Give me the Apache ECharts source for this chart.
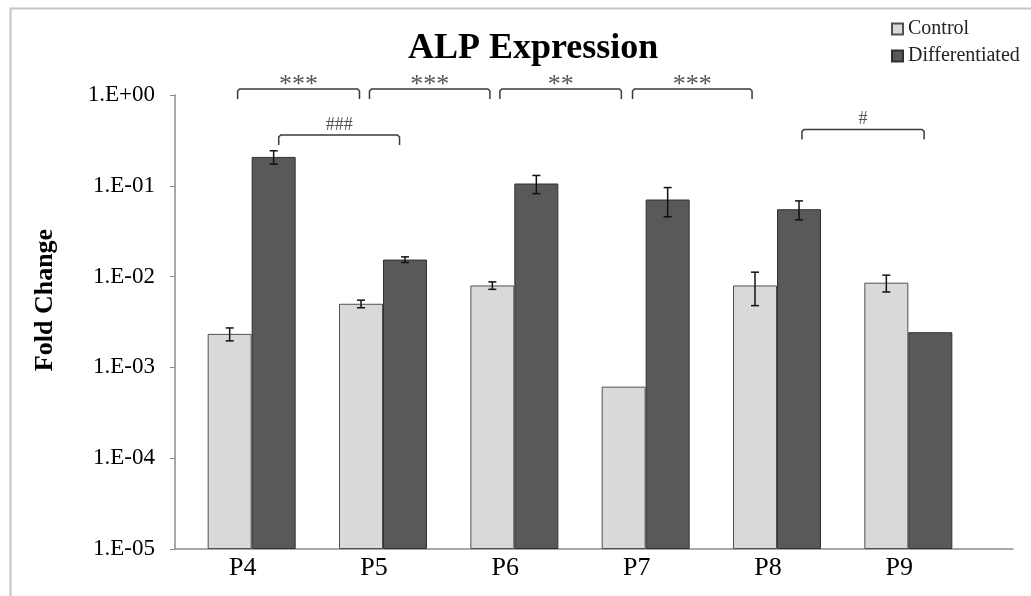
<!DOCTYPE html>
<html>
<head>
<meta charset="utf-8">
<title>ALP Expression</title>
<script src="https://cdn.jsdelivr.net/npm/echarts@6/dist/echarts.min.js"></script>
<style>
  html, body { margin: 0; padding: 0; background: #ffffff; }
  #chart { width: 1031px; height: 596px; }
</style>
</head>
<body>
<div id="chart"></div>
<script>
// Passage groups
const categories = ['P4', 'P5', 'P6', 'P7', 'P8', 'P9'];

// Fold change (mean) and standard deviation per passage
const controlMean = [2.34e-3, 5.02e-3, 7.99e-3, 6.14e-4, 7.99e-3, 8.57e-3];
const controlSD   = [0.38e-3, 0.48e-3, 0.75e-3, 0, 3.2e-3, 1.8e-3];
const diffMean    = [0.208, 0.0154, 0.106, 0.0706, 0.0552, 2.44e-3];
const diffSD      = [0.035, 0.0011, 0.024, 0.025, 0.013, 0];

// Log axis tick labels, from 1e-5 up to 1e0
const yTickLabels = ['1.E-05', '1.E-04', '1.E-03', '1.E-02', '1.E-01', '1.E+00'];

// Significance brackets: anchor category, height (fold change),
// start / end offsets in category widths, and the marker text
const bracketAnchor = [0, 1, 2, 3, 0, 4];
const bracketLevel  = [1.165, 1.165, 1.165, 1.165, 0.362, 0.418];
const bracketStart  = [-0.107, -0.103, -0.110, -0.100, 0.206, 0.190];
const bracketEnd    = [0.821, 0.814, 0.815, 0.810, 1.126, 1.120];
const bracketLabels = ['***', '***', '**', '***', '###', '#'];

const SERIF = '"Liberation Serif", "Times New Roman", serif';
const BAR_FRACTION = 0.335;

function errorBarSeries(name, means, sds, side) {
  return {
    type: 'custom',
    name: name + ' SD',
    xAxisIndex: 0,
    yAxisIndex: 0,
    z: 5,
    silent: true,
    data: means.map((m, i) => [i, m, sds[i]]),
    renderItem(params, api) {
      const i = api.value(0), m = api.value(1), sd = api.value(2);
      if (!(sd > 0)) return null;
      const band = api.size([1, 0])[0];
      const x = api.coord([i, m])[0] + side * band * BAR_FRACTION / 2;
      const yTop = api.coord([i, m + sd])[1];
      const yBot = api.coord([i, m - sd])[1];
      const cap = 4;
      const st = { stroke: '#111', lineWidth: 1.5 };
      return {
        type: 'group',
        children: [
          { type: 'line', shape: { x1: x, y1: yTop, x2: x, y2: yBot }, style: st },
          { type: 'line', shape: { x1: x - cap, y1: yTop, x2: x + cap, y2: yTop }, style: st },
          { type: 'line', shape: { x1: x - cap, y1: yBot, x2: x + cap, y2: yBot }, style: st }
        ]
      };
    }
  };
}

const chart = echarts.init(document.getElementById('chart'));

chart.setOption({
  backgroundColor: '#ffffff',
  animation: false,
  title: {
    text: 'ALP Expression',
    left: 403,
    top: 26,
    textStyle: { fontFamily: SERIF, fontWeight: 'bold', fontSize: 36, color: '#000' }
  },
  legend: {
    data: ['Control', 'Differentiated'],
    orient: 'vertical',
    left: 886,
    top: 14,
    icon: 'rect',
    itemWidth: 11,
    itemHeight: 11,
    itemGap: 7,
    textStyle: { fontFamily: SERIF, fontSize: 20, color: '#222' }
  },
  graphic: [
    {
      type: 'rect',
      shape: { x: 10.5, y: 8.5, width: 1030, height: 600 },
      style: { fill: null, stroke: '#c4c4c4', lineWidth: 2 },
      silent: true
    },
    {
      type: 'text',
      x: 45,
      y: 300,
      rotation: Math.PI / 2,
      style: {
        text: 'Fold Change',
        font: 'bold 26px ' + SERIF,
        fill: '#000',
        textAlign: 'center',
        textVerticalAlign: 'middle'
      }
    }
  ],
  grid: [
    { left: 186, right: 57, top: 95, bottom: 47 },
    { left: 175, right: 18, top: 95, bottom: 47 }
  ],
  xAxis: [
    {
      type: 'category',
      gridIndex: 0,
      data: categories,
      axisLine: { show: false },
      axisTick: { show: false },
      axisLabel: {
        fontFamily: SERIF, fontSize: 26, color: '#000', margin: 6,
        padding: [0, 18, 0, 0]
      }
    },
    {
      type: 'value',
      gridIndex: 1,
      axisLine: { show: true, onZero: false, lineStyle: { color: '#8c8c8c', width: 1.5 } },
      axisTick: { show: false },
      axisLabel: { show: false },
      splitLine: { show: false }
    }
  ],
  yAxis: [
    {
      type: 'log',
      gridIndex: 0,
      logBase: 10,
      min: 1e-5,
      max: 1,
      startValue: 1e-5,
      offset: 11,
      axisLine: { show: true, lineStyle: { color: '#8c8c8c', width: 1.5 } },
      axisTick: { show: true, length: 5, lineStyle: { color: '#8c8c8c' } },
      splitLine: { show: false },
      axisLabel: {
        fontFamily: SERIF, fontSize: 23, color: '#000', margin: 20,
        formatter(value) {
          const k = Math.round(Math.log10(value)) + 5;
          return yTickLabels[k] !== undefined ? yTickLabels[k] : '';
        }
      }
    },
    { type: 'value', gridIndex: 1, show: false }
  ],
  series: [
    {
      name: 'Control',
      type: 'bar',
      xAxisIndex: 0,
      yAxisIndex: 0,
      data: controlMean,
      barWidth: (BAR_FRACTION * 100) + '%',
      barGap: '0%',
      itemStyle: { color: '#d9d9d9', borderColor: '#505050', borderWidth: 1 }
    },
    {
      name: 'Differentiated',
      type: 'bar',
      xAxisIndex: 0,
      yAxisIndex: 0,
      data: diffMean,
      barWidth: (BAR_FRACTION * 100) + '%',
      barGap: '0%',
      itemStyle: { color: '#595959', borderColor: '#303030', borderWidth: 1 }
    },
    errorBarSeries('Control', controlMean, controlSD, -1),
    errorBarSeries('Differentiated', diffMean, diffSD, 1),
    {
      type: 'custom',
      name: 'Significance',
      xAxisIndex: 0,
      yAxisIndex: 0,
      z: 6,
      silent: true,
      clip: false,
      data: bracketAnchor.map((a, i) => [a, bracketLevel[i]]),
      renderItem(params, api) {
        const i = params.dataIndex;
        const c = api.coord([api.value(0), api.value(1)]);
        const band = api.size([1, 0])[0];
        const x1 = c[0] + bracketStart[i] * band;
        const x2 = c[0] + bracketEnd[i] * band;
        const y = c[1];
        const hook = 10;
        const isStar = bracketLabels[i].charAt(0) === '*';
        return {
          type: 'group',
          children: [
            {
              type: 'polyline',
              shape: { points: [[x1, y + hook], [x1, y + 2], [x1 + 2, y], [x2 - 2, y], [x2, y + 2], [x2, y + hook]] },
              style: { stroke: '#3a3a3a', lineWidth: 1.5, fill: null }
            },
            {
              type: 'text',
              x: (x1 + x2) / 2,
              y: isStar ? y - 4 : y - 10,
              style: {
                text: bracketLabels[i],
                font: (isStar ? '26px ' : '18px ') + SERIF,
                fill: '#555',
                textAlign: 'center',
                textVerticalAlign: 'middle'
              }
            }
          ]
        };
      }
    }
  ]
});
</script>
</body>
</html>
